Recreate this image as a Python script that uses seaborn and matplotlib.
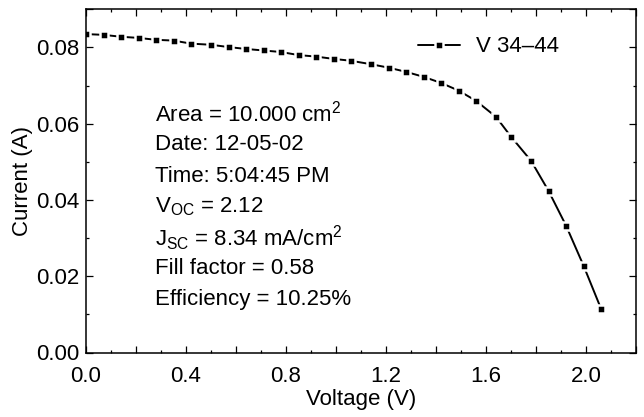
import matplotlib
matplotlib.use("Agg")
import matplotlib.pyplot as plt
from matplotlib.ticker import FixedLocator, MultipleLocator, FuncFormatter
import numpy as np
import pandas as pd
import seaborn as sns

# ---- data ----
voltage = [0.0, 0.07, 0.14, 0.21, 0.28, 0.35, 0.42, 0.50, 0.57, 0.64,
           0.71, 0.78, 0.85, 0.92, 0.99, 1.06, 1.14, 1.21, 1.28, 1.35,
           1.42, 1.49, 1.56, 1.64, 1.70, 1.78, 1.85, 1.92, 1.99, 2.06]
current = [0.0835, 0.0833, 0.0828, 0.0825, 0.0820, 0.0818, 0.0810, 0.0807, 0.0801, 0.0796,
           0.0792, 0.0788, 0.0780, 0.0776, 0.0770, 0.0765, 0.0756, 0.0747, 0.0736, 0.0723,
           0.0707, 0.0687, 0.0660, 0.0618, 0.0566, 0.0503, 0.0424, 0.0333, 0.0228, 0.0115]
series_name = "V 34\u201344"
x_tick_values = [0.0, 0.2, 0.4, 0.6, 0.8, 1.0, 1.2, 1.4, 1.6, 1.8, 2.0, 2.2]
x_labelled = [0.0, 0.4, 0.8, 1.2, 1.6, 2.0]
y_tick_values = [0.00, 0.02, 0.04, 0.06, 0.08]
info_lines = [
    r"Area = 10.000 cm$^{2}$",
    "Date: 12-05-02",
    "Time: 5:04:45 PM",
    r"V$_{\mathrm{OC}}$ = 2.12",
    r"J$_{\mathrm{SC}}$ = 8.34 mA/cm$^{2}$",
    "Fill factor = 0.58",
    "Efficiency = 10.25%",
]

df = pd.DataFrame({"Voltage (V)": voltage, "Current (A)": current,
                   "series": [series_name] * len(voltage)})

sns.set_style("ticks")
plt.rcParams["font.family"] = ["Liberation Sans", "DejaVu Sans"]
plt.rcParams["mathtext.fontset"] = "custom"
plt.rcParams["mathtext.rm"] = "Liberation Sans"
plt.rcParams["mathtext.it"] = "Liberation Sans:italic"
plt.rcParams["mathtext.bf"] = "Liberation Sans:bold"
plt.rcParams["text.color"] = "black"
plt.rcParams["axes.labelcolor"] = "black"

fig = plt.figure(figsize=(6.44, 4.17), dpi=100)
ax = fig.add_axes([86 / 644, 1 - 352.5 / 417, 550 / 644, (352.5 - 9.3) / 417])

sns.lineplot(data=df, x="Voltage (V)", y="Current (A)", hue="series",
             palette=["black"], ax=ax, marker="s", markersize=5.6,
             markeredgecolor="white", markeredgewidth=1.8,
             linewidth=1.4, legend=True)

ax.set_xlim(0, 2.2)
ax.set_ylim(0, 0.09)

ax.xaxis.set_major_locator(FixedLocator(x_tick_values))
ax.xaxis.set_major_formatter(FuncFormatter(
    lambda v, p: f"{v:.1f}" if any(abs(v - t) < 1e-6 for t in x_labelled) else ""))
ax.xaxis.set_minor_locator(MultipleLocator(0.1))
ax.yaxis.set_major_locator(FixedLocator(y_tick_values + [0.09]))
ax.yaxis.set_major_formatter(FuncFormatter(
    lambda v, p: f"{v:.2f}" if any(abs(v - t) < 1e-9 for t in y_tick_values) else ""))
ax.yaxis.set_minor_locator(MultipleLocator(0.01))

ax.tick_params(which="both", direction="in", top=True, right=True,
               width=0.9, labelsize=16, colors="black")
ax.tick_params(which="major", length=5)
ax.tick_params(which="minor", length=2.5)
ax.tick_params(axis="x", pad=10)
ax.tick_params(axis="y", pad=5)
for s in ax.spines.values():
    s.set_visible(True)
    s.set_linewidth(1.1)
    s.set_color("black")

ax.set_xlabel("Voltage (V)", fontsize=16, labelpad=1, color="black")
ax.set_ylabel("Current (A)", fontsize=16, labelpad=2, color="black")

leg = ax.legend(loc="center left", bbox_to_anchor=((418 - 86) / 550, (352.5 - 47) / 343.2),
                frameon=False, fontsize=16, handlelength=1.9, handletextpad=0.7,
                borderpad=0, borderaxespad=0)
for t in leg.get_texts():
    t.set_color("black")

y0 = 114
for i, line in enumerate(info_lines):
    ypix = y0 + i * 31
    ax.text(155, 417 - ypix, line, transform=None, fontsize=16,
            ha="left", va="center", color="black")

fig.savefig("out.png", dpi=100)
